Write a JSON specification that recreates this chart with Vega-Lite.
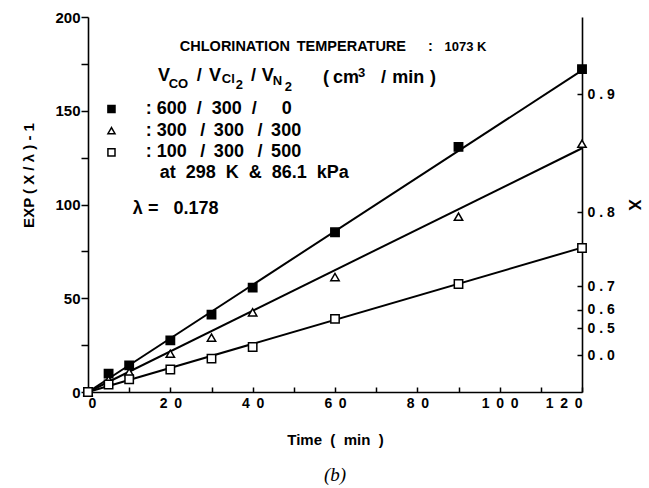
{
  "$schema": "https://vega.github.io/schema/vega-lite/v6.json",
  "autosize": "none",
  "width": 494,
  "height": 375,
  "padding": {"left": 88, "top": 17, "right": 67, "bottom": 96},
  "background": "white",
  "title": {"text": "(b)", "orient": "bottom", "font": "Liberation Serif", "fontStyle": "italic", "fontWeight": "normal", "fontSize": 19, "offset": 19, "color": "black"},
  "config": {
    "view": {"stroke": null},
    "axis": {"domainColor": "black", "tickColor": "black", "labelColor": "black", "titleColor": "black", "labelFont": "Liberation Sans", "titleFont": "Liberation Sans", "labelFontWeight": "bold", "titleFontWeight": "bold", "grid": false, "domainWidth": 1.6, "tickWidth": 1.5}
  },
  "datasets": {
    "pts": [
      {"time": 0, "val": 0, "series": "A"},
      {"time": 5, "val": 9.8, "series": "A"},
      {"time": 10, "val": 14.2, "series": "A"},
      {"time": 20, "val": 27.5, "series": "A"},
      {"time": 30, "val": 41.3, "series": "A"},
      {"time": 40, "val": 55.7, "series": "A"},
      {"time": 60, "val": 85.2, "series": "A"},
      {"time": 90, "val": 130.7, "series": "A"},
      {"time": 120, "val": 172.2, "series": "A"},
      {"time": 0, "val": 0, "series": "B"},
      {"time": 5, "val": 6.5, "series": "B"},
      {"time": 10, "val": 10.6, "series": "B"},
      {"time": 20, "val": 20.4, "series": "B"},
      {"time": 30, "val": 29.0, "series": "B"},
      {"time": 40, "val": 42.5, "series": "B"},
      {"time": 60, "val": 61.3, "series": "B"},
      {"time": 90, "val": 93.5, "series": "B"},
      {"time": 120, "val": 132.4, "series": "B"},
      {"time": 0, "val": 0, "series": "C"},
      {"time": 5, "val": 4.0, "series": "C"},
      {"time": 10, "val": 6.8, "series": "C"},
      {"time": 20, "val": 12.0, "series": "C"},
      {"time": 30, "val": 17.8, "series": "C"},
      {"time": 40, "val": 24.0, "series": "C"},
      {"time": 60, "val": 39.0, "series": "C"},
      {"time": 90, "val": 57.6, "series": "C"},
      {"time": 120, "val": 76.8, "series": "C"}
    ],
    "fits": [
      {"time": 0, "val": 0, "series": "A"},
      {"time": 120, "val": 171.5, "series": "A"},
      {"time": 0, "val": 0, "series": "B"},
      {"time": 120, "val": 130.0, "series": "B"},
      {"time": 0, "val": 0, "series": "C"},
      {"time": 120, "val": 77.0, "series": "C"}
    ],
    "ann_main": [
      {"time": 17.0, "val": 168.4, "label": "V"},
      {"time": 26.4, "val": 168.4, "label": "/"},
      {"time": 29.4, "val": 168.4, "label": "V"},
      {"time": 39.6, "val": 168.4, "label": "/"},
      {"time": 42.2, "val": 168.4, "label": "V"},
      {"time": 57.1, "val": 167.6, "label": "("},
      {"time": 59.5, "val": 167.6, "label": "cm"},
      {"time": 71.2, "val": 167.6, "label": "/"},
      {"time": 73.9, "val": 167.6, "label": "min"},
      {"time": 83.1, "val": 167.6, "label": ")"},
      {"time": 14.0, "val": 150.9, "label": ": 600\u00a0\u00a0/\u00a0\u00a0300\u00a0\u00a0/\u00a0\u00a0\u2007\u00a00"},
      {"time": 14.0, "val": 139.4, "label": ": 300\u00a0\u00a0\u2009/\u00a0\u2009300\u00a0\u00a0\u2009/\u00a0\u2009300"},
      {"time": 14.0, "val": 127.8, "label": ": 100\u00a0\u00a0\u2009/\u00a0\u2009300\u00a0\u00a0\u2009/\u00a0\u2009500"},
      {"time": 17.4, "val": 116.8, "label": "at\u00a0\u00a0298\u00a0\u00a0K\u00a0\u00a0&\u00a0\u00a086.1\u00a0\u00a0kPa"},
      {"time": 10.9, "val": 97.7, "label": "\u03bb\u00a0=\u00a0\u00a0\u00a00.178"}
    ],
    "ann_sub": [
      {"time": 19.6, "val": 164.4, "label": "CO"},
      {"time": 32.5, "val": 167.0, "label": "Cl"},
      {"time": 35.9, "val": 163.8, "label": "2"},
      {"time": 44.9, "val": 165.8, "label": "N"},
      {"time": 47.8, "val": 162.7, "label": "2"},
      {"time": 65.6, "val": 170.2, "label": "3"}
    ],
    "ann_head": [
      {"time": 22.3, "val": 184.1, "label": "CHLORINATION"},
      {"time": 50.7, "val": 184.1, "label": "TEMPERATURE"},
      {"time": 82.6, "val": 184.1, "label": ":"}
    ],
    "ann_head2": [
      {"time": 86.6, "val": 184.1, "label": "1073 K"}
    ],
    "keys": [
      {"time": 5.7, "val": 150.9, "series": "A"},
      {"time": 5.7, "val": 139.4, "series": "B"},
      {"time": 5.7, "val": 127.8, "series": "C"}
    ]
  },
  "layer": [
    {
      "layer": [
        {
          "data": {"name": "fits"},
          "mark": {"type": "line", "color": "black", "strokeWidth": 2},
          "encoding": {
            "x": {"field": "time", "type": "quantitative", "scale": {"domain": [0, 120], "nice": false},
              "axis": {"title": "Time\u00a0\u00a0(\u00a0\u00a0min\u00a0\u00a0)", "titleFontSize": 15, "titlePadding": 22, "values": [0,10,20,30,40,50,60,70,80,90,100,110,120], "labelExpr": "datum.value % 20 == 0 ? join(split(datum.label, ''), '\u00a0\u2009') : ''", "labelFontSize": 14, "tickSize": -5, "labelPadding": 9}},
            "y": {"field": "val", "type": "quantitative", "scale": {"domain": [0, 200], "nice": false},
              "axis": {"title": "EXP ( X / \u03bb ) - 1", "titleFontSize": 15, "titleX": -60, "titleY": 158, "titleAngle": -90, "titleBaseline": "middle", "titleAlign": "center", "values": [0,25,50,75,100,125,150,175,200], "labelExpr": "datum.value % 50 == 0 ? datum.label : ''", "labelFontSize": 15, "tickSize": 7, "labelPadding": 1}},
            "detail": {"field": "series"}
          }
        },
        {
          "data": {"name": "pts"},
          "mark": {"type": "point", "filled": true, "stroke": "black", "strokeWidth": 1.5, "size": 70, "opacity": 1},
          "encoding": {
            "x": {"field": "time", "type": "quantitative"},
            "y": {"field": "val", "type": "quantitative"},
            "shape": {"field": "series", "type": "nominal", "scale": {"domain": ["A","B","C"], "range": ["square","triangle-up","square"]}, "legend": null},
            "fill": {"field": "series", "type": "nominal", "scale": {"domain": ["A","B","C"], "range": ["black","white","white"]}, "legend": null}
          }
        },
        {
          "data": {"name": "keys"},
          "mark": {"type": "point", "filled": true, "stroke": "black", "strokeWidth": 1.5, "size": 50, "opacity": 1},
          "encoding": {
            "x": {"field": "time", "type": "quantitative"},
            "y": {"field": "val", "type": "quantitative"},
            "shape": {"field": "series", "type": "nominal", "legend": null},
            "fill": {"field": "series", "type": "nominal", "legend": null}
          }
        },
        {
          "data": {"name": "ann_main"},
          "mark": {"type": "text", "align": "left", "baseline": "middle", "font": "Liberation Sans", "fontWeight": "bold", "fontSize": 18, "color": "black"},
          "encoding": {
            "x": {"field": "time", "type": "quantitative"},
            "y": {"field": "val", "type": "quantitative"},
            "text": {"field": "label"}
          }
        },
        {
          "data": {"name": "ann_sub"},
          "mark": {"type": "text", "align": "left", "baseline": "middle", "font": "Liberation Sans", "fontWeight": "bold", "fontSize": 13, "color": "black"},
          "encoding": {
            "x": {"field": "time", "type": "quantitative"},
            "y": {"field": "val", "type": "quantitative"},
            "text": {"field": "label"}
          }
        },
        {
          "data": {"name": "ann_head"},
          "mark": {"type": "text", "align": "left", "baseline": "middle", "font": "Liberation Sans", "fontWeight": "bold", "fontSize": 14.5, "color": "black"},
          "encoding": {
            "x": {"field": "time", "type": "quantitative"},
            "y": {"field": "val", "type": "quantitative"},
            "text": {"field": "label"}
          }
        },
        {
          "data": {"name": "ann_head2"},
          "mark": {"type": "text", "align": "left", "baseline": "middle", "font": "Liberation Sans", "fontWeight": "bold", "fontSize": 13, "color": "black"},
          "encoding": {
            "x": {"field": "time", "type": "quantitative"},
            "y": {"field": "val", "type": "quantitative"},
            "text": {"field": "label"}
          }
        }
      ]
    },
    {
      "data": {"name": "pts"},
      "mark": {"type": "point", "opacity": 0},
      "encoding": {
        "x": {"field": "time", "type": "quantitative"},
        "y": {"field": "val", "type": "quantitative", "scale": {"domain": [0, 200], "nice": false},
          "axis": {"orient": "right", "title": "X", "titleFontSize": 17, "titleAngle": 90, "titlePadding": 10, "values": [19.5, 34.1, 43.9, 56.3, 95.8, 158.9], "labelExpr": "datum.value < 25 ? '0 . 0' : datum.value < 40 ? '0 . 5' : datum.value < 50 ? '0 . 6' : datum.value < 70 ? '0 . 7' : datum.value < 120 ? '0 . 8' : '0 . 9'", "labelFontSize": 14, "tickSize": -5, "labelPadding": 10}}
      }
    }
  ],
  "resolve": {"scale": {"y": "independent"}}
}
